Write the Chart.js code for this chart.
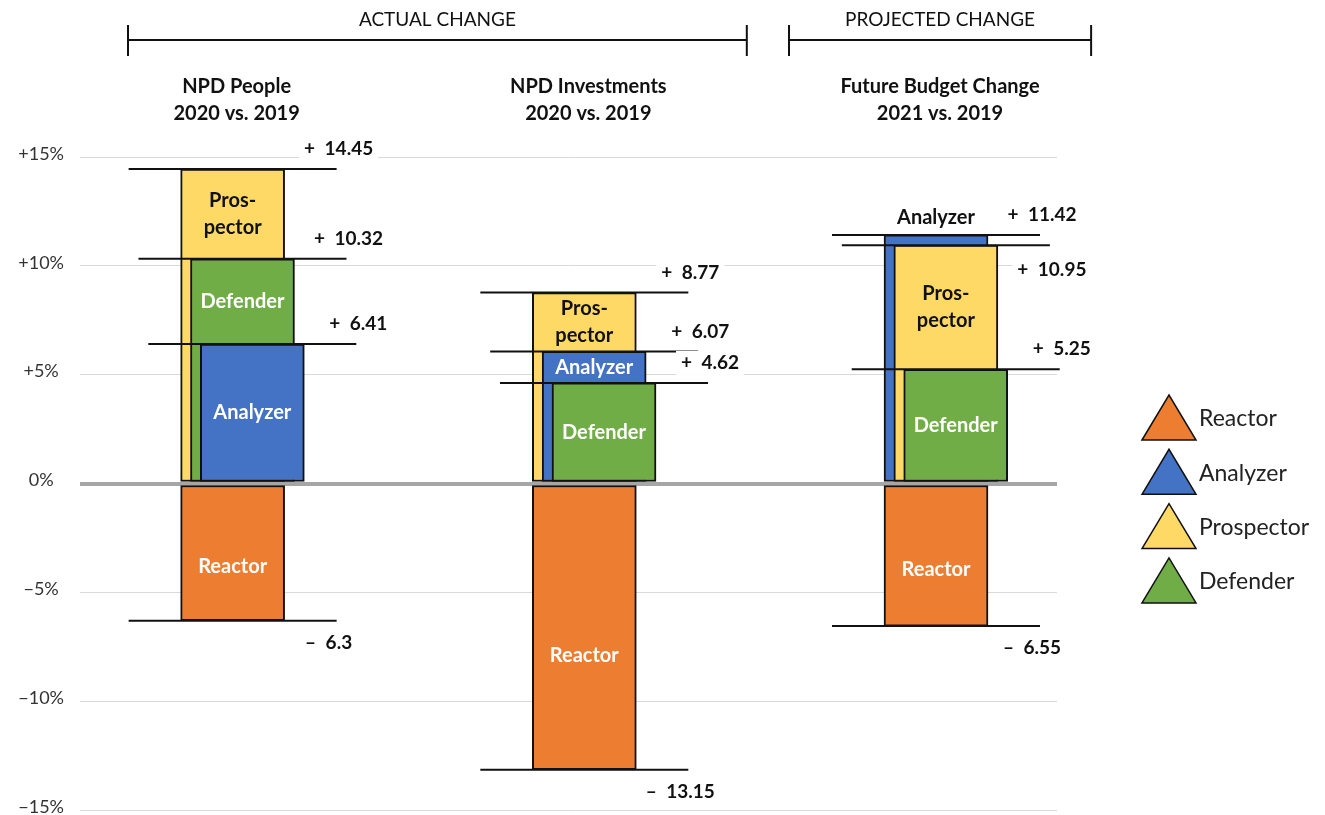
<!DOCTYPE html>
<html>
<head>
<meta charset="utf-8">
<title>Strategy type change</title>
<script src="https://cdn.jsdelivr.net/npm/chart.js@4.4.1/dist/chart.umd.min.js"></script>
<style>
  body { margin: 0; background: #fff; }
</style>
</head>
<body>
<canvas id="ctx" width="1325" height="815"></canvas>
<script>
const groups = ['NPD People', 'NPD Investments', 'Future Budget Change'];
const periods = ['2020 vs. 2019', '2020 vs. 2019', '2021 vs. 2019'];
const spans = ['ACTUAL CHANGE', 'PROJECTED CHANGE'];
const types = ['Reactor', 'Analyzer', 'Prospector', 'Defender'];
const reactor = [-6.3, -13.15, -6.55];
const analyzer = [6.41, 6.07, 11.42];
const prospector = [14.45, 8.77, 10.95];
const defender = [10.32, 4.62, 5.25];
const yTicks = [-15, -10, -5, 0, 5, 10, 15];

const colors = { Reactor: '#ED7D31', Analyzer: '#4472C4', Prospector: '#FFD966', Defender: '#70AD47' };
const values = { Analyzer: analyzer, Prospector: prospector, Defender: defender };
const font = 'Lato, "Open Sans", sans-serif';
const barW = 104;
const shift = 0.028; // each layer sits a little to the right of the one behind it

// positive bars of a group are layered tallest (back) to shortest (front)
const layers = [0, 1, 2].map(() => ({ data: [], backgroundColor: [], kinds: [] }));
groups.forEach((g, i) => {
    const sorted = ['Analyzer', 'Prospector', 'Defender'].sort((a, b) => values[b][i] - values[a][i]);
    sorted.forEach((t, k) => {
        layers[k].data.push({ x: i + k * shift, y: values[t][i] });
        layers[k].backgroundColor.push(colors[t]);
        layers[k].kinds.push(t);
    });
});

const datasets = [{
    label: 'Reactor',
    data: reactor.map((v, i) => ({ x: i, y: v })),
    backgroundColor: colors.Reactor,
    kinds: groups.map(() => 'Reactor'),
    order: 0
}].concat(layers.map((l, k) => ({
    label: 'layer ' + k,
    data: l.data,
    backgroundColor: l.backgroundColor,
    kinds: l.kinds,
    order: 3 - k
})));

function setFont(c, size, bold) {
    c.font = (bold ? 'bold ' : '') + size + 'px ' + font;
}

const annotate = {
    id: 'annotate',
    afterDatasetsDraw(chart) {
        const c = chart.ctx;
        c.save();
        groups.forEach((g, i) => {
            const bars = chart.data.datasets.map((ds, d) => ({
                el: chart.getDatasetMeta(d).data[i],
                v: ds.data[i].y,
                kind: ds.kinds[i]
            }));
            const pos = bars.filter(b => b.v > 0).sort((a, b) => b.v - a.v);
            const neg = bars.filter(b => b.v < 0);

            // level lines
            c.strokeStyle = '#111';
            c.lineWidth = 2;
            bars.forEach(b => {
                c.beginPath();
                c.moveTo(b.el.x - barW, b.el.y);
                c.lineTo(b.el.x + barW, b.el.y);
                c.stroke();
            });

            // names inside bars
            c.textAlign = 'center';
            c.textBaseline = 'middle';
            setFont(c, 20, true);
            pos.forEach((b, k) => {
                const top = b.el.y;
                const bottom = k < pos.length - 1 ? pos[k + 1].el.y : b.el.base;
                let lines = b.kind === 'Prospector' ? ['Pros-', 'pector'] : [b.kind];
                if (bottom - top < 25) {
                    c.fillStyle = '#111';
                    c.fillText(b.kind, b.el.x, top - 17);
                    return;
                }
                c.fillStyle = b.kind === 'Prospector' ? '#111' : '#fff';
                const mid = (top + bottom) / 2;
                lines.forEach((t, j) => c.fillText(t, b.el.x, mid + (j - (lines.length - 1) / 2) * 27));
            });
            neg.forEach(b => {
                c.fillStyle = '#fff';
                c.fillText(b.kind, b.el.x, b.el.base + 0.6 * (b.el.y - b.el.base));
            });

            // value labels
            setFont(c, 19, true);
            const label = (text, x, y) => {
                const w = c.measureText(text).width;
                c.fillStyle = '#fff';
                c.fillRect(x - w / 2 - 5, y - 12, w + 10, 24);
                c.fillStyle = '#111';
                c.fillText(text, x, y);
            };
            pos.forEach((b, k) => {
                const crowded = k > 0 && b.el.y - pos[k - 1].el.y < 25;
                label('+\u2002' + b.v, b.el.x + barW + 2, crowded ? b.el.y + 25 : b.el.y - 20);
            });
            neg.forEach(b => label('\u2013\u2002' + Math.abs(b.v), b.el.x + barW - 8, b.el.y + 22));
        });
        c.restore();
    },
    afterDraw(chart) {
        const c = chart.ctx;
        const xs = chart.scales.x;
        const area = chart.chartArea;
        c.save();
        c.textAlign = 'center';
        c.textBaseline = 'middle';
        c.fillStyle = '#111';

        // bracketed headers
        const bounds = [[-0.2975, 1.462], [1.582, 2.441]];
        c.strokeStyle = '#111';
        c.lineWidth = 2;
        spans.forEach((s, i) => {
            const a = xs.getPixelForValue(bounds[i][0]);
            const b = xs.getPixelForValue(bounds[i][1]);
            c.beginPath();
            c.moveTo(a, 40); c.lineTo(b, 40);
            c.moveTo(a, 25); c.lineTo(a, 56);
            c.moveTo(b, 25); c.lineTo(b, 56);
            c.stroke();
            setFont(c, 19, false);
            c.fillText(s, (a + b) / 2, 20);
        });

        // group titles
        setFont(c, 20, true);
        groups.forEach((g, i) => {
            const x = xs.getPixelForValue(i) + 4;
            c.fillText(g, x, 87);
            c.fillText(periods[i], x, 114);
        });

        // legend
        const lx = area.right + 85;
        const ly = 395;
        c.textAlign = 'left';
        setFont(c, 23, false);
        types.forEach((t, i) => {
            const top = ly + i * 54.3;
            c.beginPath();
            c.moveTo(lx, top + 45);
            c.lineTo(lx + 27, top);
            c.lineTo(lx + 54, top + 45);
            c.closePath();
            c.fillStyle = colors[t];
            c.fill();
            c.lineWidth = 1.5;
            c.strokeStyle = '#111';
            c.stroke();
            c.fillStyle = '#222';
            c.fillText(t, lx + 57, top + 24);
        });
        c.restore();
    }
};

const chart = new Chart(document.getElementById('ctx'), {
    type: 'bar',
    data: { datasets: datasets },
    plugins: [annotate],
    options: {
        responsive: false,
        animation: false,
        layout: { padding: { top: 157, right: 268, bottom: 5, left: 0 } },
        datasets: {
            bar: { grouped: false, barThickness: barW, borderWidth: 2, borderColor: '#111', borderSkipped: false }
        },
        plugins: {
            legend: { display: false },
            tooltip: { enabled: false }
        },
        scales: {
            x: { type: 'linear', min: -0.434, max: 2.344, offset: false, grid: { offset: false }, display: false },
            y: {
                min: -15,
                max: 15,
                border: { display: false },
                grid: {
                    drawTicks: false,
                    color: ctx => ctx.tick.value === 0 ? '#a6a6a6' : '#d9d9d9',
                    lineWidth: ctx => ctx.tick.value === 0 ? 4 : 1
                },
                afterBuildTicks: s => { s.ticks = yTicks.map(v => ({ value: v })); },
                ticks: {
                    padding: 16,
                    labelOffset: -3,
                    crossAlign: 'center',
                    color: '#333',
                    font: { family: font, size: 18 },
                    callback: v => v > 0 ? '+' + v + '%' : v < 0 ? '\u2212' + (-v) + '%' : '0%'
                },
                afterFit: s => { s.width = 80; s.paddingTop = 0; s.paddingBottom = 0; }
            }
        }
    }
});
</script>
</body>
</html>
